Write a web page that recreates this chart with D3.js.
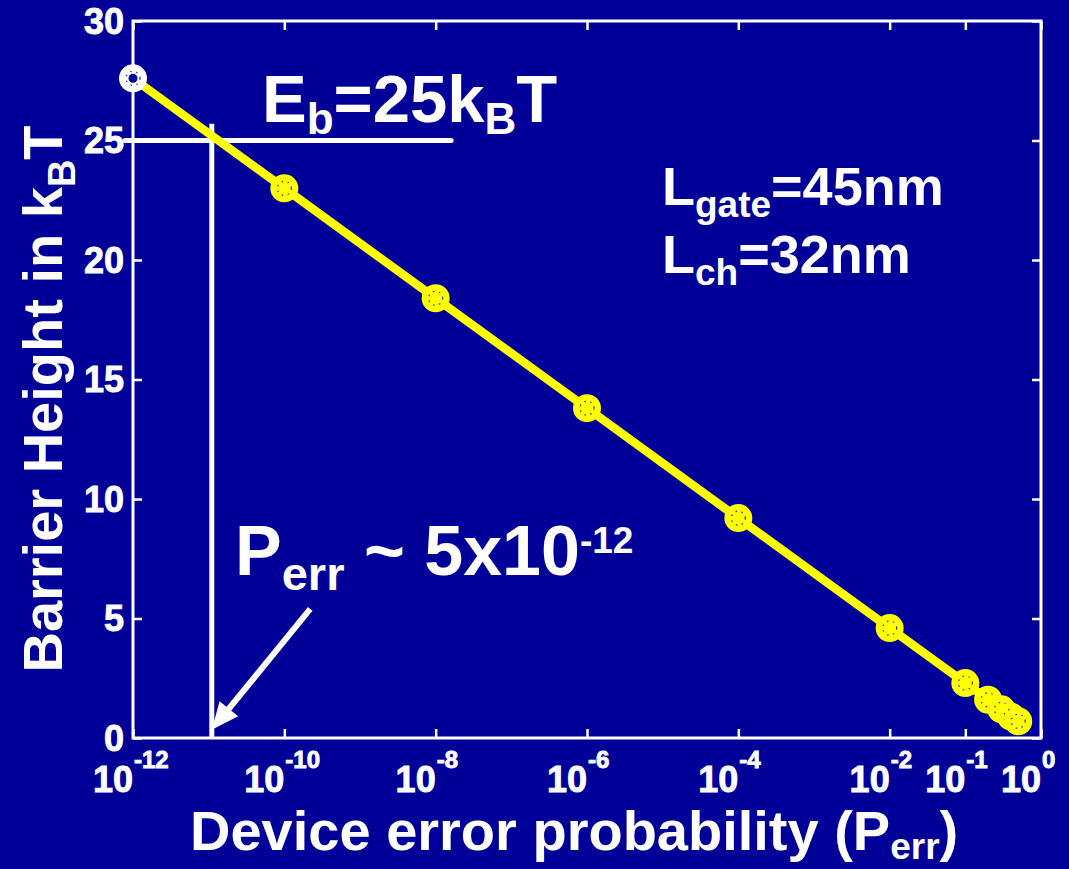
<!DOCTYPE html>
<html>
<head>
<meta charset="utf-8">
<script src="https://cdn.jsdelivr.net/npm/d3@7"></script>
<style>
  html, body { margin: 0; padding: 0; background: #000099; }
  svg { display: block; }
  text { font-family: "Liberation Sans", Arial, sans-serif; font-weight: bold; fill: #ffffff; }
  .tick-label { stroke: #ffffff; stroke-width: 0.9px; }
</style>
</head>
<body>
<svg id="chart" width="1069" height="869"></svg>
<script>
// Device error probability (x) against barrier height in kBT (y)
const errorProb = [1e-12, 1e-10, 1e-8, 1e-6, 1e-4, 1e-2, 1e-1, 0.2, 0.3, 0.4, 0.5];
const barrierHeight = [27.6, 23.0, 18.4, 13.8, 9.2, 4.6, 2.3, 1.6, 1.2, 0.9, 0.7];

// Axis ticks
const xTickValues = [1e-12, 1e-10, 1e-8, 1e-6, 1e-4, 1e-2, 1e-1, 1e0];
const xTickExponents = ["-12", "-10", "-8", "-6", "-4", "-2", "-1", "0"];
const yTickValues = [0, 5, 10, 15, 20, 25, 30];

// 25 kBT design point: guide lines and arrow (probability, height)
const ebLevel = 25;
const crossProb = 1.1e-11;
const guideTop = 25.7;
const guideEndProb = 1.6e-8;
const arrowFrom = [2.2e-10, 5.4];
const arrowTo = [1.1e-11, 0.35];

const svg = d3.select("#chart");
const W = 1069, H = 869;
const plot = { left: 133, right: 1041, top: 21, bottom: 738 };

svg.append("rect").attr("width", W).attr("height", H).attr("fill", "#000099");

const x = d3.scaleLog().domain([1e-12, 1]).range([plot.left, plot.right]);
const y = d3.scaleLinear().domain([0, 30]).range([plot.bottom, plot.top]);

const WHITE = "#ffffff", YELLOW = "#ffff00", BG = "#000099";

// Plot box
svg.append("rect")
  .attr("x", plot.left).attr("y", plot.top)
  .attr("width", plot.right - plot.left).attr("height", plot.bottom - plot.top)
  .attr("fill", "none").attr("stroke", WHITE).attr("stroke-width", 3);

// Inward tick marks on all four sides
function styleAxis(g) {
  g.select(".domain").remove();
  g.selectAll(".tick line").attr("stroke", WHITE).attr("stroke-width", 2.5);
  g.selectAll(".tick text").remove();
}
svg.append("g").attr("transform", `translate(0,${plot.bottom})`)
  .call(d3.axisBottom(x).tickValues(xTickValues).tickSize(-9).tickFormat(() => "")).call(styleAxis);
svg.append("g").attr("transform", `translate(0,${plot.top})`)
  .call(d3.axisTop(x).tickValues(xTickValues).tickSize(-9).tickFormat(() => "")).call(styleAxis);
svg.append("g").attr("transform", `translate(${plot.left},0)`)
  .call(d3.axisLeft(y).tickValues(yTickValues).tickSize(-9).tickFormat(() => "")).call(styleAxis);
svg.append("g").attr("transform", `translate(${plot.right},0)`)
  .call(d3.axisRight(y).tickValues(yTickValues).tickSize(-9).tickFormat(() => "")).call(styleAxis);

// X tick labels: 10 with exponent superscript
const xLab = svg.append("g");
xTickValues.forEach((v, i) => {
  xLab.append("text").attr("class", "tick-label").attr("x", x(v)).attr("y", 792)
    .attr("text-anchor", "end").attr("font-size", 36).text("10");
  xLab.append("text").attr("class", "tick-label").attr("x", x(v) + 1).attr("y", 768)
    .attr("text-anchor", "start").attr("font-size", 24).text(xTickExponents[i]);
});

// Y tick labels
svg.append("g").selectAll("text").data(yTickValues).join("text")
  .attr("class", "tick-label")
  .attr("x", 124).attr("y", d => y(d)).attr("dy", "0.36em")
  .attr("text-anchor", "end").attr("font-size", 36).text(d => d);

// Guide lines at Eb = 25 kBT
svg.append("line")
  .attr("x1", plot.left - 8).attr("x2", x(guideEndProb))
  .attr("y1", y(ebLevel)).attr("y2", y(ebLevel))
  .attr("stroke", WHITE).attr("stroke-width", 5).attr("stroke-linecap", "round");
svg.append("line")
  .attr("x1", x(crossProb)).attr("x2", x(crossProb))
  .attr("y1", y(0)).attr("y2", y(guideTop))
  .attr("stroke", WHITE).attr("stroke-width", 5);

// Arrow pointing at the crossing probability
(function drawArrow() {
  const x0 = x(arrowFrom[0]), y0 = y(arrowFrom[1]);
  const x1 = x(arrowTo[0]), y1 = y(arrowTo[1]);
  const dx = x1 - x0, dy = y1 - y0, len = Math.hypot(dx, dy);
  const ux = dx / len, uy = dy / len, px = -uy, py = ux;
  const headLen = 27, headHalf = 12;
  const bx = x1 - ux * headLen, by = y1 - uy * headLen;
  svg.append("line").attr("x1", x0).attr("y1", y0).attr("x2", bx + ux * 2).attr("y2", by + uy * 2)
    .attr("stroke", WHITE).attr("stroke-width", 6);
  svg.append("path")
    .attr("d", `M${x1},${y1}L${bx + px * headHalf},${by + py * headHalf}L${bx - px * headHalf},${by - py * headHalf}Z`)
    .attr("fill", WHITE);
})();

// Data line
const pts = errorProb.map((p, i) => [p, barrierHeight[i]]);
svg.append("path").datum(pts)
  .attr("d", d3.line().x(d => x(d[0])).y(d => y(d[1])))
  .attr("fill", "none").attr("stroke", YELLOW).attr("stroke-width", 8.5);

// Markers
const mk = svg.append("g").selectAll("g").data(pts).join("g")
  .attr("transform", d => `translate(${x(d[0])},${y(d[1])})`);
mk.append("circle").attr("r", 12.5)
  .attr("fill", (d, i) => i === 0 ? WHITE : YELLOW)
  .attr("stroke", (d, i) => i === 0 ? WHITE : YELLOW).attr("stroke-width", 3);
mk.append("circle").attr("r", 7)
  .attr("fill", "none").attr("stroke", BG).attr("stroke-width", 1.3)
  .attr("stroke-dasharray", "1.5 4.5").attr("opacity", 0.8);
mk.filter((d, i) => i === 0).append("circle").attr("r", 4.5).attr("fill", BG);

// Annotation: Eb = 25 kBT
svg.append("text").attr("x", 262).attr("y", 122).attr("font-size", 67)
  .call(t => {
    t.append("tspan").text("E");
    t.append("tspan").attr("font-size", 44).attr("dy", 12).text("b");
    t.append("tspan").attr("dy", -12).text("=25k");
    t.append("tspan").attr("font-size", 44).attr("dy", 12).text("B");
    t.append("tspan").attr("dy", -12).text("T");
  });

// Annotation: gate and channel lengths
svg.append("text").attr("x", 662).attr("y", 205).attr("font-size", 54)
  .call(t => {
    t.append("tspan").text("L");
    t.append("tspan").attr("font-size", 37).attr("dy", 12).text("gate");
    t.append("tspan").attr("dy", -12).text("=45nm");
  });
svg.append("text").attr("x", 662).attr("y", 273).attr("font-size", 54)
  .call(t => {
    t.append("tspan").text("L");
    t.append("tspan").attr("font-size", 37).attr("dy", 12).text("ch");
    t.append("tspan").attr("dy", -12).text("=32nm");
  });

// Annotation: Perr ~ 5x10^-12
svg.append("text").attr("x", 235).attr("y", 575).attr("font-size", 70)
  .call(t => {
    t.append("tspan").text("P");
    t.append("tspan").attr("font-size", 47).attr("dy", 15).text("err");
    t.append("tspan").attr("dy", -15).text(" ~ 5x10");
    t.append("tspan").attr("font-size", 37).attr("dy", -22).text("-12");
  });

// Axis titles
svg.append("text").attr("x", 190).attr("y", 850).attr("font-size", 56)
  .call(t => {
    t.append("tspan").text("Device error probability (P");
    t.append("tspan").attr("font-size", 37).attr("dy", 9).text("err");
    t.append("tspan").attr("dy", -9).text(")");
  });
svg.append("text").attr("transform", "translate(62,399) rotate(-90)")
  .attr("text-anchor", "middle").attr("font-size", 56)
  .call(t => {
    t.append("tspan").text("Barrier Height in k");
    t.append("tspan").attr("font-size", 38).attr("dy", 13).text("B");
    t.append("tspan").attr("dy", -13).text("T");
  });
</script>
</body>
</html>
